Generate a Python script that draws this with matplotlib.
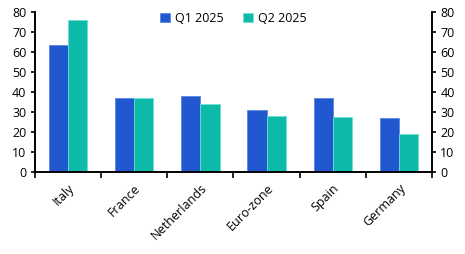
import numpy as np
import matplotlib.pyplot as plt

plt.rcParams['font.family'] = ['Open Sans', 'DejaVu Sans']

countries = ['Italy', 'France', 'Netherlands', 'Euro-zone', 'Spain', 'Germany']
q1_2025 = [63.5, 36.8, 37.8, 30.8, 36.8, 26.8]
q2_2025 = [76, 36.8, 33.8, 28, 27.4, 18.8]

BLUE = '#2157cf'
TEAL = '#0dbaa9'

fig = plt.figure(figsize=(4.65, 2.54), dpi=100)
ax = fig.add_axes([0.075, 0.323, 0.854, 0.630])

x = np.arange(len(countries))
w = 0.29
ax.bar(x - w / 2, q1_2025, w, color=BLUE, edgecolor='#5b86e6', linewidth=0.6, label='Q1 2025')
ax.bar(x + w / 2, q2_2025, w, color=TEAL, edgecolor='#6fe0d4', linewidth=0.6, label='Q2 2025')

ax.set_xlim(-0.5, len(countries) - 0.5)
ax.set_ylim(0, 80)
ax.set_yticks(range(0, 81, 10))

# ticks between categories
ax.set_xticks(np.arange(-0.5, len(countries), 1.0))
ax.set_xticklabels([])
ax.set_xticks(x, minor=True)
ax.set_xticklabels(countries, minor=True, rotation=45, ha='right',
                   rotation_mode='anchor', fontsize=9)
ax.tick_params(axis='x', which='minor', length=0, pad=7)
ax.tick_params(axis='x', which='major', length=4, width=1.2, direction='out')

ax.spines['top'].set_visible(False)
for s in ['left', 'right', 'bottom']:
    ax.spines[s].set_linewidth(1.2)

ax.tick_params(axis='y', labelsize=9, length=3, width=1.2, pad=3)

ax2 = ax.twinx()
ax2.set_ylim(0, 80)
ax2.set_yticks(range(0, 81, 10))
ax2.tick_params(axis='y', labelsize=9, length=3, width=1.2, pad=3)
ax2.spines['top'].set_visible(False)
for s in ['left', 'right', 'bottom']:
    ax2.spines[s].set_linewidth(1.2)

ax.legend(loc='upper center', bbox_to_anchor=(0.5, 1.07), ncol=2, frameon=False,
          fontsize=9, handlelength=0.8, handleheight=0.8, handletextpad=0.4,
          columnspacing=1.6)

fig.savefig('out.png', dpi=100)
